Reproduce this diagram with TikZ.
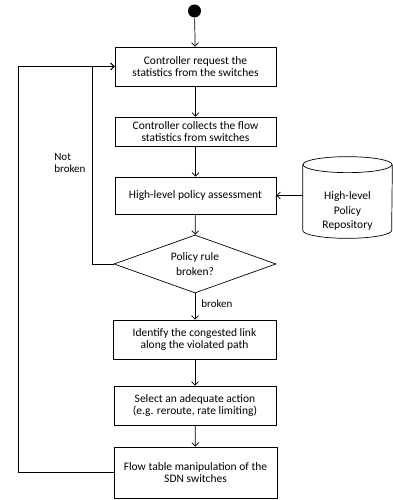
\documentclass[tikz,border=0pt]{standalone}
\usepackage{fontspec}
\setmainfont{Carlito}
\usetikzlibrary{arrows.meta,shapes.geometric}
\begin{document}
\begin{tikzpicture}[
  x=1pt,y=1pt,
  every path/.style={line width=0.7pt},
  arr/.style={-{Straight Barb[length=3.5pt,width=7pt]}},
  box/.style={draw,rectangle,minimum width=161pt,align=center,inner sep=0pt,font=\fontsize{11.5}{12.8}\selectfont},
  dec/.style={draw,diamond,aspect=2.8,minimum width=162pt,minimum height=58pt,inner sep=0pt,align=center,font=\fontsize{11.5}{14.5}\selectfont},
  lbl/.style={inner sep=0pt,align=left,font=\fontsize{11}{12.5}\selectfont}
]
\useasboundingbox (0,0) rectangle (393,500);
\node[circle,fill=black,minimum size=13pt,inner sep=0pt] (start) at (194.5,489) {};
\node[box,minimum height=39pt] (b1) at (195.5,433.5) {Controller request the\\statistics from the switches};
\node[box,minimum height=29pt] (b2) at (195.5,368.5) {Controller collects the flow\\statistics from switches};
\node[box,minimum height=37pt] (b3) at (195.5,304.5) {High-level policy assessment};
\node[dec] (d) at (195,236) {Policy rule\\broken?};
\node[box,minimum width=163pt,minimum height=39pt] (b4) at (194.5,160.5) {Identify the congested link\\along the violated path};
\node[box,minimum width=162pt,minimum height=39pt] (b5) at (195,94.5) {Select an adequate action\\(e.g. reroute, rate limiting)};
\node[box,minimum width=163pt,minimum height=51pt] (b6) at (195.5,27.5) {Flow table manipulation of the\\SDN switches};
% repository cylinder
\node[rectangle,minimum width=89pt,minimum height=81pt,inner sep=0pt] (repo) at (347.5,302.5) {};
\draw[fill=white] ([yshift=-8pt]repo.north west) -- ([yshift=8pt]repo.south west)
  arc[start angle=180,end angle=360,x radius=44.5pt,y radius=8pt] -- ([yshift=-8pt]repo.north east);
\draw ([yshift=-8pt]repo.north) ellipse[x radius=44.5pt,y radius=8pt];
\node[inner sep=0pt,align=center,font=\fontsize{11.5}{14.5}\selectfont] (repotext) at (347.5,289) {High-level\\Policy\\Repository};
% connectors
\draw[arr] (start) -- (b1);
\draw[arr] (b1) -- (b2);
\draw[arr] (b2) -- (b3);
\draw[arr] (b3) -- (d);
\draw[arr] (d) -- node[lbl,right=6pt,pos=0.4] (lb) {broken} (d.south |- b4.north);
\draw[arr] (b4.south -| b5.north) -- (b5);
\draw[arr] (b5) -- (b6);
\draw[arr] (repo.west |- b3.east) -- (b3.east);
\coordinate (outer) at (18,0);
\coordinate (inner) at (92,0);
\draw[arr] (b6.west) -- (b6.west -| outer) |- (b1.west);
\draw[arr] (d.west) -- (d.west -| inner) |- (b1.west);
\node[lbl,anchor=west] (nb) at (54,337) {Not\\broken};
\end{tikzpicture}
\end{document}
